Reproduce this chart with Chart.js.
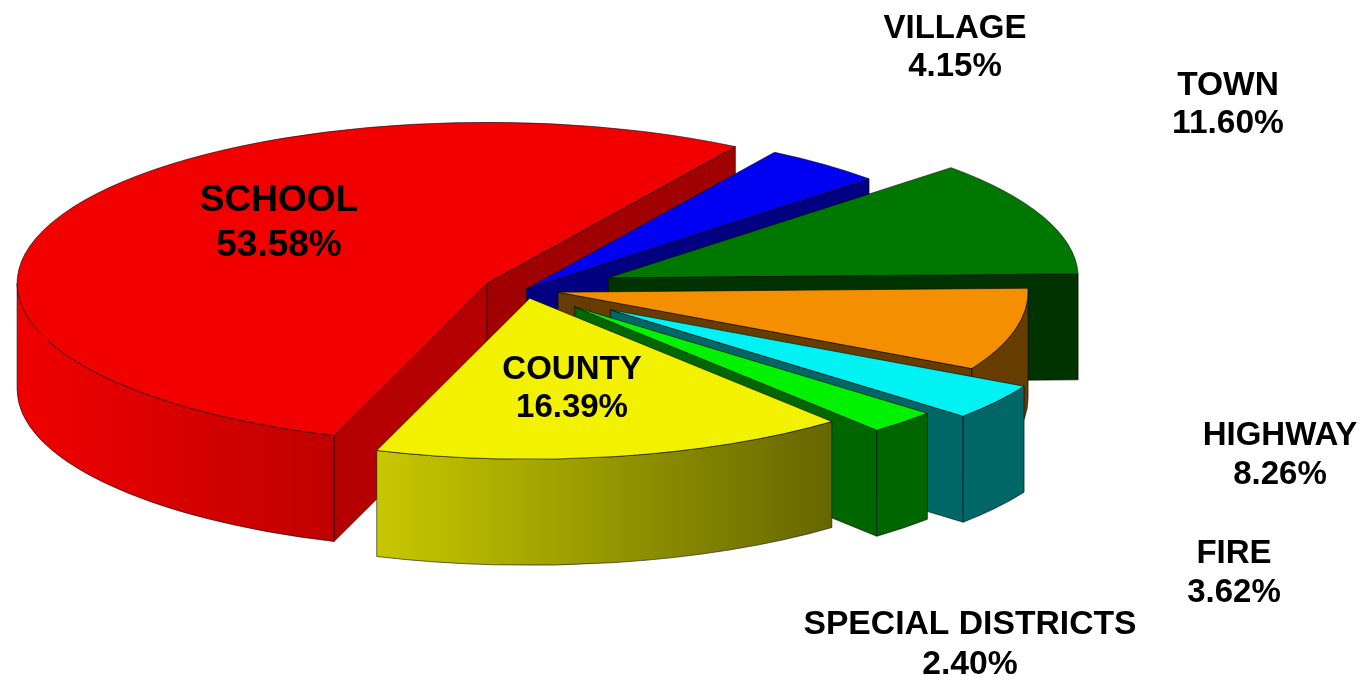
<!DOCTYPE HTML>
<html>
<head>
<script src="https://cdn.jsdelivr.net/npm/chart.js@4/dist/chart.umd.js"></script>
<style>
  body { margin: 0; background: #fff; }
</style>
</head>
<body>
<canvas id="myChart" width="1370" height="680"></canvas>
<script type="text/javascript">
const categories = ['SCHOOL', 'VILLAGE', 'TOWN', 'HIGHWAY', 'FIRE', 'SPECIAL DISTRICTS', 'COUNTY'];
const shares = [53.58, 4.15, 11.60, 8.26, 3.62, 2.40, 16.39];
const topColors = ['#f20000', '#0000f2', '#007800', '#f49000', '#00f2f2', '#00f200', '#f2f200'];
const wallFrom = ['#f00000', '#000080', '#003300', '#663c00', '#006666', '#006600', '#c8c800'];
const wallTo = ['#c00000', '#000080', '#003300', '#663c00', '#006666', '#006600', '#666600'];
const startCutColors = ['#b40000', '#000080', '#003300', '#663c00', '#006666', '#006600', '#666600'];
const endCutColors = ['#a00000', '#000080', '#003300', '#663c00', '#006666', '#006600', '#666600'];
// how far each slice is pulled out of the pie
const explode = [42, 2, 90, 34, 104, 71, 26];
// label centres and font sizes
const labelX = [279, 955, 1228, 1280, 1234, 970, 572];
const labelY = [201, 29, 86, 436, 554, 625, 370];
const labelGap = [45, 38, 38, 39, 39, 40, 38];
const labelSize = [37, 33, 33.5, 33, 33, 33.7, 33];

// the tilted pie
const CX = 525, CY = 289.5, RX = 470, RY = 161, DEPTH = 106;

function sliceWalls(ctx, i, arc) {
  const a1 = arc.startAngle, a2 = arc.endAngle;
  const mid = (a1 + a2) / 2;
  const ox = CX + Math.cos(mid) * explode[i];
  const oy = CY + Math.sin(mid) * explode[i] * RY / RX;
  const rim = a => [ox + RX * Math.cos(a), oy + RY * Math.sin(a)];

  const cut = (a, color) => {
    const p = rim(a);
    ctx.beginPath();
    ctx.moveTo(ox, oy);
    ctx.lineTo(p[0], p[1]);
    ctx.lineTo(p[0], p[1] + DEPTH);
    ctx.lineTo(ox, oy + DEPTH);
    ctx.closePath();
    ctx.fillStyle = color;
    ctx.fill();
    ctx.stroke();
  };
  if (Math.cos(a1) < 0) cut(a1, startCutColors[i]);
  if (Math.cos(a2) > 0) cut(a2, endCutColors[i]);

  // front part of the rim only
  [0, Math.PI * 2].forEach(base => {
    const lo = Math.max(a1, base), hi = Math.min(a2, base + Math.PI);
    if (hi <= lo) return;
    const p = rim(lo), q = rim(hi);
    const grad = ctx.createLinearGradient(Math.min(p[0], q[0]), 0, Math.max(p[0], q[0]), 0);
    grad.addColorStop(0, wallFrom[i]);
    grad.addColorStop(1, wallTo[i]);
    ctx.beginPath();
    ctx.ellipse(ox, oy, RX, RY, 0, lo, hi);
    ctx.lineTo(q[0], q[1] + DEPTH);
    ctx.ellipse(ox, oy + DEPTH, RX, RY, 0, hi, lo, true);
    ctx.closePath();
    ctx.fillStyle = grad;
    ctx.fill();
    ctx.stroke();
  });

  // top face, the library's own arc squashed into place
  const sx = RX / arc.outerRadius, sy = RY / arc.outerRadius;
  ctx.save();
  ctx.translate(ox, oy);
  ctx.scale(sx, sy);
  ctx.translate(-arc.x, -arc.y);
  arc.draw(ctx);
  ctx.restore();

  ctx.beginPath();
  ctx.moveTo(ox, oy);
  ctx.ellipse(ox, oy, RX, RY, 0, a1, a2);
  ctx.closePath();
  ctx.stroke();
}

const tiltedPie = {
  id: 'tiltedPie',
  beforeDatasetsDraw(chart) {
    const ctx = chart.ctx;
    const arcs = chart.getDatasetMeta(0).data;
    ctx.save();
    ctx.lineWidth = 0.8;
    ctx.lineJoin = 'round';
    ctx.strokeStyle = 'rgba(0,0,0,0.7)';
    arcs.forEach((arc, i) => sliceWalls(ctx, i, arc));
    ctx.restore();

    ctx.save();
    ctx.fillStyle = '#000';
    ctx.textAlign = 'center';
    ctx.textBaseline = 'middle';
    categories.forEach((name, i) => {
      ctx.font = 'bold ' + labelSize[i] + 'px "Liberation Sans"';
      ctx.fillText(name, labelX[i], labelY[i]);
      ctx.fillText(shares[i].toFixed(2) + '%', labelX[i], labelY[i] + labelGap[i]);
    });
    ctx.restore();
    return false;
  }
};

const myChart = new Chart(document.getElementById('myChart'), {
  type: 'pie',
  data: {
    labels: categories,
    datasets: [{
      data: shares,
      backgroundColor: topColors,
      borderWidth: 0
    }]
  },
  options: {
    responsive: false,
    animation: false,
    rotation: 199,
    plugins: {
      legend: { display: false },
      tooltip: { enabled: false }
    }
  },
  plugins: [tiltedPie]
});
</script>
</body>
</html>
